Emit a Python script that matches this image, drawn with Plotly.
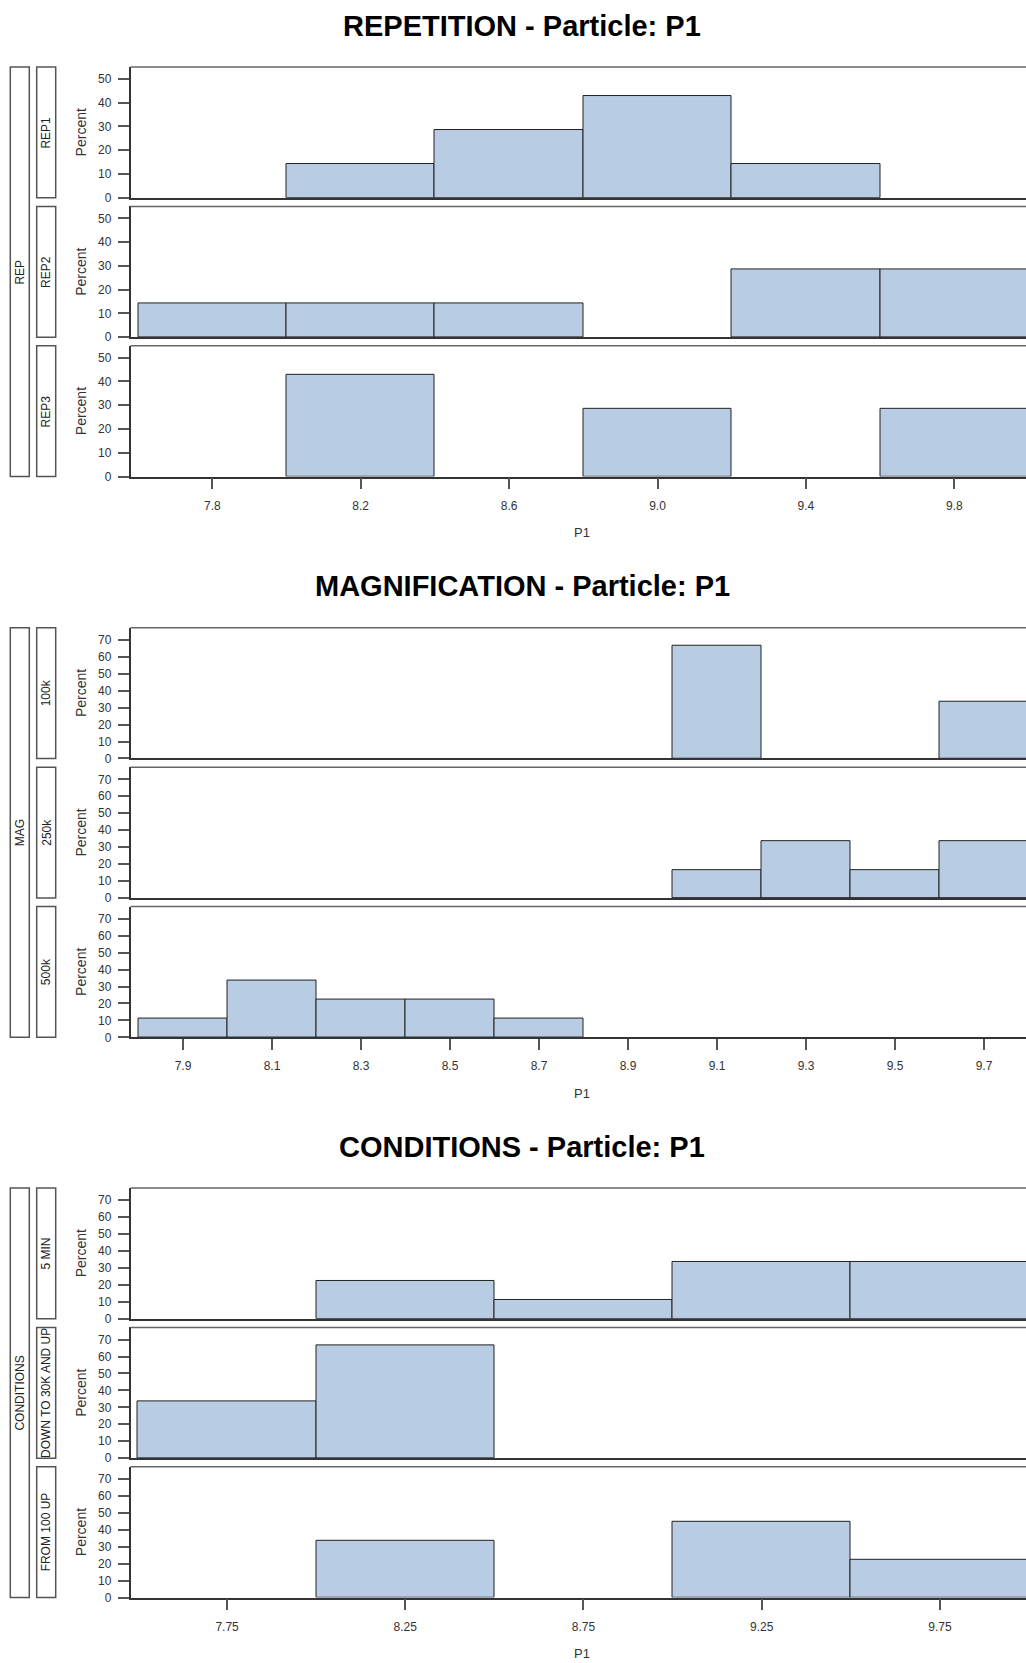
import plotly.graph_objects as go

# ---------------- data ----------------
rep_titles = "REPETITION - Particle: P1"
rep_group = "REP"
rep_levels = ["REP1", "REP2", "REP3"]
rep_edges = [7.6, 8.0, 8.4, 8.8, 9.2, 9.6, 10.0]
rep1_pct = [0, 14.29, 28.57, 42.86, 14.29, 0]
rep2_pct = [14.29, 14.29, 14.29, 0, 28.57, 28.57]
rep3_pct = [0, 42.86, 0, 28.57, 0, 28.57]
rep_xtick_vals = [7.8, 8.2, 8.6, 9.0, 9.4, 9.8]
rep_xtick_text = ["7.8", "8.2", "8.6", "9.0", "9.4", "9.8"]
rep_ytick_vals = [0, 10, 20, 30, 40, 50]

mag_title = "MAGNIFICATION - Particle: P1"
mag_group = "MAG"
mag_levels = ["100k", "250k", "500k"]
mag_edges = [7.8, 8.0, 8.2, 8.4, 8.6, 8.8, 9.0, 9.2, 9.4, 9.6, 9.8]
mag_100k_pct = [0, 0, 0, 0, 0, 0, 66.67, 0, 0, 33.33]
mag_250k_pct = [0, 0, 0, 0, 0, 0, 16.67, 33.33, 16.67, 33.33]
mag_500k_pct = [11.11, 33.33, 22.22, 22.22, 11.11, 0, 0, 0, 0, 0]
mag_xtick_vals = [7.9, 8.1, 8.3, 8.5, 8.7, 8.9, 9.1, 9.3, 9.5, 9.7]
mag_xtick_text = ["7.9", "8.1", "8.3", "8.5", "8.7", "8.9", "9.1", "9.3", "9.5", "9.7"]
mag_ytick_vals = [0, 10, 20, 30, 40, 50, 60, 70]

cond_title = "CONDITIONS - Particle: P1"
cond_group = "CONDITIONS"
cond_levels = ["5 MIN", "DOWN TO 30K AND UP", "FROM 100 UP"]
cond_edges = [7.5, 8.0, 8.5, 9.0, 9.5, 10.0]
cond_5min_pct = [0, 22.22, 11.11, 33.33, 33.33]
cond_down_pct = [33.33, 66.67, 0, 0, 0]
cond_from100_pct = [0, 33.33, 0, 44.44, 22.22]
cond_xtick_vals = [7.75, 8.25, 8.75, 9.25, 9.75]
cond_xtick_text = ["7.75", "8.25", "8.75", "9.25", "9.75"]
cond_ytick_vals = [0, 10, 20, 30, 40, 50, 60, 70]

x_title = "P1"
y_title = "Percent"

# ---------------- layout settings ----------------
W, H = 1026, 1663
FILL = "#B8CCE4"
PLOT_L = 130.5          # px left of panels
PANEL_H = 131.3
PANEL_STEP = 140.0
FONT = "Liberation Sans, Arial, sans-serif"

sections = [
    dict(title=rep_titles, group=rep_group, levels=rep_levels, edges=rep_edges,
         values=[rep1_pct, rep2_pct, rep3_pct], xt=(rep_xtick_vals, rep_xtick_text),
         yt=rep_ytick_vals, ymax=55.0, xleft=7.5795, ppu=371.0, top=67.3),
    dict(title=mag_title, group=mag_group, levels=mag_levels, edges=mag_edges,
         values=[mag_100k_pct, mag_250k_pct, mag_500k_pct], xt=(mag_xtick_vals, mag_xtick_text),
         yt=mag_ytick_vals, ymax=77.2, xleft=7.782, ppu=445.0, top=630.4),
    dict(title=cond_title, group=cond_group, levels=cond_levels, edges=cond_edges,
         values=[cond_5min_pct, cond_down_pct, cond_from100_pct], xt=(cond_xtick_vals, cond_xtick_text),
         yt=cond_ytick_vals, ymax=77.2, xleft=7.479, ppu=356.4, top=1193.0),
]


def py(px):
    return 1 - px / H


def pxx(px):
    return px / W


fig = go.Figure()
layout = dict(width=W, height=H, margin=dict(l=0, r=0, t=0, b=0),
              paper_bgcolor="white", plot_bgcolor="white", showlegend=False,
              font=dict(family=FONT, size=12, color="#333333"), bargap=0)
shapes = []
annotations = []


def vlabel(text, xpx, ypx, size, color):
    return dict(text=text, x=pxx(xpx), y=py(ypx), xref="paper", yref="paper",
                showarrow=False, textangle=-90, xanchor="center", yanchor="middle",
                font=dict(family=FONT, size=size, color=color))


idx = 0
for s in sections:
    top = s["top"]
    xr = [s["xleft"], s["xleft"] + (W - PLOT_L) / s["ppu"]]
    # title
    annotations.append(dict(text="<b>%s</b>" % s["title"], x=pxx(522), y=py(top - 41.5),
                            xref="paper", yref="paper", showarrow=False, xanchor="center",
                            yanchor="middle", font=dict(family=FONT, size=29, color="black")))
    # outer strip
    bottom_all = top + 2 * PANEL_STEP + PANEL_H
    shapes.append(dict(type="rect", xref="paper", yref="paper", x0=pxx(10.3), x1=pxx(29.3),
                       y0=py(bottom_all), y1=py(top), line=dict(color="#555555", width=1.5),
                       fillcolor="white"))
    annotations.append(vlabel(s["group"], 19.8, (top + bottom_all) / 2, 12, "#222222"))
    edges = s["edges"]
    centers = [(edges[i] + edges[i + 1]) / 2 for i in range(len(edges) - 1)]
    widths = [edges[i + 1] - edges[i] for i in range(len(edges) - 1)]
    for p in range(3):
        idx += 1
        ptop = top + p * PANEL_STEP
        pbot = ptop + PANEL_H
        vals = s["values"][p]
        xs = [c for c, v in zip(centers, vals) if v > 0]
        ys = [v for v in vals if v > 0]
        ws = [w for w, v in zip(widths, vals) if v > 0]
        xa = "x" if idx == 1 else "x%d" % idx
        ya = "y" if idx == 1 else "y%d" % idx
        fig.add_trace(go.Bar(x=xs, y=ys, width=ws, xaxis=xa, yaxis=ya,
                             marker=dict(color=FILL, line=dict(color="#222222", width=1)),
                             hoverinfo="x+y"))
        last = (p == 2)
        xkey = "xaxis" if idx == 1 else "xaxis%d" % idx
        ykey = "yaxis" if idx == 1 else "yaxis%d" % idx
        layout[xkey] = dict(domain=[pxx(PLOT_L), 1], anchor=ya, range=xr, showgrid=False,
                            zeroline=False, showline=True, linecolor="#333333", linewidth=1.5,
                            ticks="outside" if last else "", ticklen=11, tickwidth=1.5,
                            tickcolor="#555555", showticklabels=last,
                            tickvals=s["xt"][0] if last else None,
                            ticktext=s["xt"][1] if last else None,
                            ticklabelstandoff=6,
                            tickfont=dict(family=FONT, size=12, color="#333333"))
        layout[ykey] = dict(domain=[py(pbot), py(ptop)], anchor=xa, range=[0, s["ymax"]],
                            showgrid=False, zeroline=False, showline=True, linecolor="#333333",
                            linewidth=1.5, ticks="outside", ticklen=11, tickwidth=1.5,
                            tickcolor="#555555", tickvals=s["yt"], ticklabelstandoff=4,
                            tickfont=dict(family=FONT, size=12, color="#333333"))
        # top border
        shapes.append(dict(type="line", xref="paper", yref="paper", x0=pxx(PLOT_L), x1=1,
                           y0=py(ptop), y1=py(ptop), line=dict(color="#666666", width=1.5)))
        # inner strip
        shapes.append(dict(type="rect", xref="paper", yref="paper", x0=pxx(36.7), x1=pxx(55.7),
                           y0=py(pbot), y1=py(ptop), line=dict(color="#555555", width=1.5),
                           fillcolor="white"))
        annotations.append(vlabel(s["levels"][p], 46.2, (ptop + pbot) / 2, 12, "#222222"))
        annotations.append(vlabel(y_title, 81, (ptop + pbot) / 2, 14, "#333333"))
    # x-axis title
    annotations.append(dict(text=x_title, x=pxx(582), y=py(top + 467.5), xref="paper",
                            yref="paper", showarrow=False, xanchor="center", yanchor="middle",
                            font=dict(family=FONT, size=13, color="#333333")))

layout["shapes"] = shapes
layout["annotations"] = annotations
fig.update_layout(**layout)

fig.write_html("out.html", config={"responsive": False, "displayModeBar": False},
               post_script="document.body.style.margin='0';document.body.style.overflow='hidden';")
